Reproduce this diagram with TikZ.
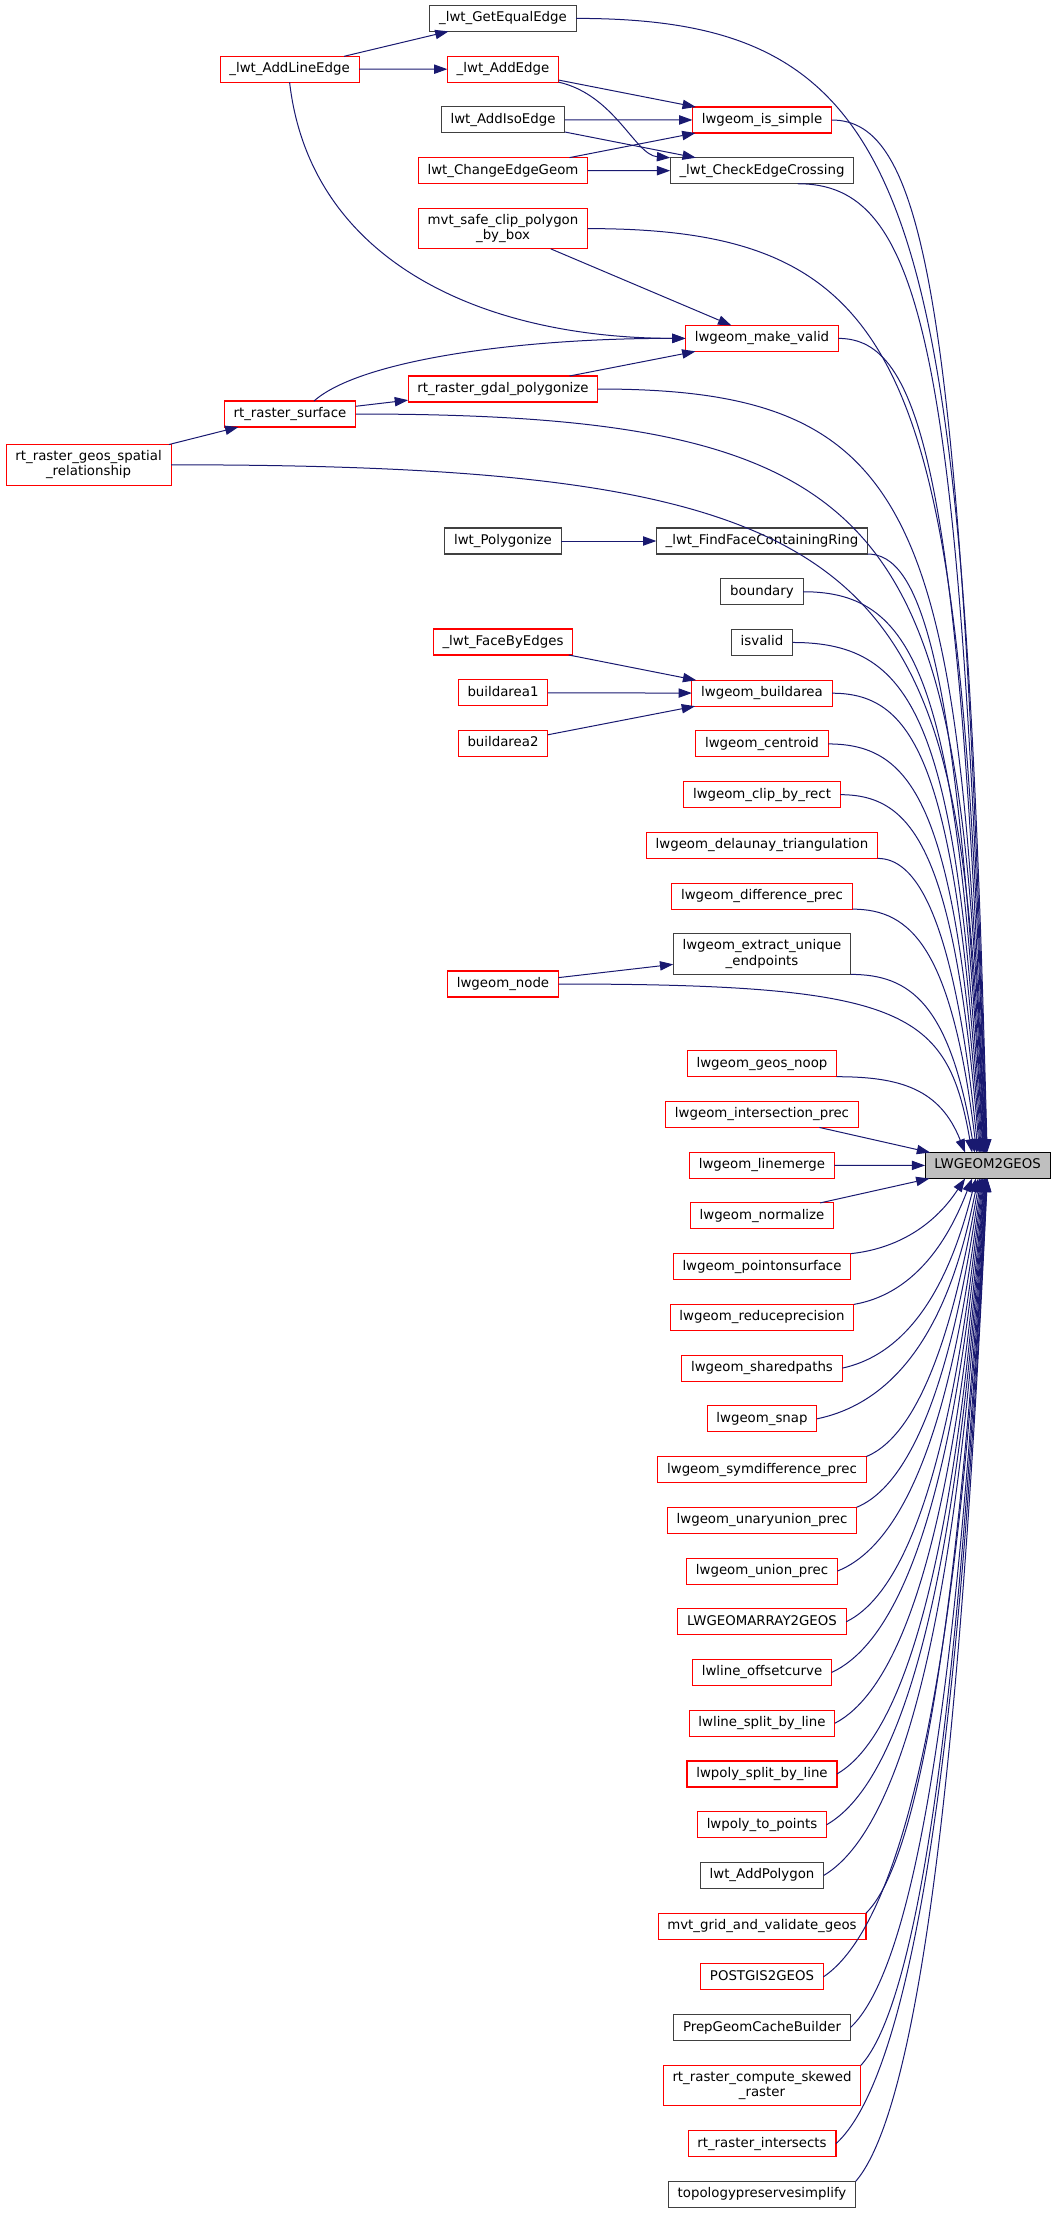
\documentclass[tikz,border=0pt]{standalone}
\usepackage{fontspec}
\setmainfont{DejaVu Sans}
\usepackage{xcolor}
\usepackage{tikz}
\usetikzlibrary{arrows.meta, positioning, calc}

\definecolor{edgeblue}{RGB}{25,25,112}
\definecolor{cutred}{RGB}{255,0,0}
\definecolor{rootgray}{RGB}{191,191,191}

\begin{document}
\begin{tikzpicture}[
    x=0.75pt, y=-0.75pt,
    node distance=18.55pt,
    box/.style={rectangle, draw=black!75, fill=white, line width=0.8pt, outer sep=0pt, inner xsep=7pt, inner ysep=0pt, minimum height=19.5pt, text height=7.6pt, text depth=2.4pt, font=\fontsize{10}{11.5}\selectfont},
    cut/.style={box, draw=cutred},
    tall/.style={align=center, minimum height=30.4pt, text height={}, text depth={}},
    root/.style={box, draw=black, fill=rootgray},
    arrow/.style={-{Triangle[length=10pt, width=7pt]}, draw=edgeblue, line width=0.75pt}
]
\useasboundingbox (0,0) rectangle (1056,2213);

% callers in the upper part
\node[box] (getequal) at (503,18.4) {\_lwt\_GetEqualEdge};
\node[cut, below=of getequal] (addedge) {\_lwt\_AddEdge};
\node[box, below=of addedge] (addiso) {lwt\_AddIsoEdge};
\node[cut, below=of addiso] (changeedge) {lwt\_ChangeEdgeGeom};
\node[cut, tall, below=of changeedge] (mvtsafe) {mvt\_safe\_clip\_polygon\\\_by\_box};
\node[cut] (addline) at (289.6,69.3) {\_lwt\_AddLineEdge};
\node[cut] (issimple) at (762,120) {lwgeom\_is\_simple};
\node[box, below=of issimple] (checkedge) {\_lwt\_CheckEdgeCrossing};
\node[cut] (makevalid) at (762,338.4) {lwgeom\_make\_valid};
\node[cut] (gdalpoly) at (503,389) {rt\_raster\_gdal\_polygonize};
\node[cut] (surface) at (290,414) {rt\_raster\_surface};
\node[cut, tall] (spatial) at (88.6,464.8) {rt\_raster\_geos\_spatial\\\_relationship};
\node[box] (polygonize) at (503,541) {lwt\_Polygonize};
\node[box] (findface) at (762,541) {\_lwt\_FindFaceContainingRing};
\node[box, below=of findface] (boundary) {boundary};
\node[box, below=of boundary] (isvalid) {isvalid};
\node[cut, below=of isvalid] (buildarea) {lwgeom\_buildarea};
\node[cut, below=of buildarea] (centroid) {lwgeom\_centroid};
\node[cut, below=of centroid] (clip) {lwgeom\_clip\_by\_rect};
\node[cut, below=of clip] (delaunay) {lwgeom\_delaunay\_triangulation};
\node[cut, below=of delaunay] (difference) {lwgeom\_difference\_prec};
\node[box, tall, below=of difference] (extract) {lwgeom\_extract\_unique\\\_endpoints};
\node[cut] (facebyedges) at (503,642) {\_lwt\_FaceByEdges};
\node[cut, below=of facebyedges] (buildarea1) {buildarea1};
\node[cut, below=of buildarea1] (buildarea2) {buildarea2};
\node[cut] (lwgeomnode) at (503,984) {lwgeom\_node};

% the long column
\node[cut] (geosnoop) at (762,1063.7) {lwgeom\_geos\_noop};
\node[cut, below=of geosnoop] (intersection) {lwgeom\_intersection\_prec};
\node[cut, below=of intersection] (linemerge) {lwgeom\_linemerge};
\node[cut, below=of linemerge] (normalize) {lwgeom\_normalize};
\node[cut, below=of normalize] (pointonsurface) {lwgeom\_pointonsurface};
\node[cut, below=of pointonsurface] (reduceprecision) {lwgeom\_reduceprecision};
\node[cut, below=of reduceprecision] (sharedpaths) {lwgeom\_sharedpaths};
\node[cut, below=of sharedpaths] (snap) {lwgeom\_snap};
\node[cut, below=of snap] (symdifference) {lwgeom\_symdifference\_prec};
\node[cut, below=of symdifference] (unaryunion) {lwgeom\_unaryunion\_prec};
\node[cut, below=of unaryunion] (unionprec) {lwgeom\_union\_prec};
\node[cut, below=of unionprec] (geomarray) {LWGEOMARRAY2GEOS};
\node[cut, below=of geomarray] (offsetcurve) {lwline\_offsetcurve};
\node[cut, below=of offsetcurve] (linesplit) {lwline\_split\_by\_line};
\node[cut, below=of linesplit] (polysplit) {lwpoly\_split\_by\_line};
\node[cut, below=of polysplit] (topoints) {lwpoly\_to\_points};
\node[box, below=of topoints] (addpolygon) {lwt\_AddPolygon};
\node[cut, below=of addpolygon] (mvtgrid) {mvt\_grid\_and\_validate\_geos};
\node[cut, below=of mvtgrid] (postgis) {POSTGIS2GEOS};
\node[box, below=of postgis] (prepcache) {PrepGeomCacheBuilder};
\node[cut, tall, below=of prepcache] (skewed) {rt\_raster\_compute\_skewed\\\_raster};
\node[cut, below=of skewed] (intersects) {rt\_raster\_intersects};
\node[box, below=of intersects] (simplify) {topologypreservesimplify};

\node[root] (lw) at (987.6,1165.5) {LWGEOM2GEOS};

% calls among the callers
\draw[arrow] (addline) -- (getequal);
\draw[arrow] (addline) -- (addedge);
\draw[arrow] (addline.south) .. controls (310,260) and (480,338) .. (makevalid.west);
\draw[arrow] (addedge) -- (issimple);
\draw[arrow] (addedge.south east) .. controls (615,95) and (635,155) .. (checkedge.north west);
\draw[arrow] (addiso) -- (issimple);
\draw[arrow] (addiso) -- (checkedge);
\draw[arrow] (changeedge) -- (issimple);
\draw[arrow] (changeedge) -- (checkedge);
\draw[arrow] (mvtsafe) -- (makevalid);
\draw[arrow] ([xshift=18pt]surface.north) .. controls (360,360) and (520,338) .. (makevalid.west);
\draw[arrow] (gdalpoly) -- (makevalid);
\draw[arrow] (surface) -- (gdalpoly);
\draw[arrow] (spatial) -- (surface);
\draw[arrow] (polygonize) -- (findface);
\draw[arrow] (facebyedges) -- (buildarea);
\draw[arrow] (buildarea1) -- (buildarea);
\draw[arrow] (buildarea2) -- (buildarea);
\draw[arrow] (lwgeomnode) -- (extract);

% calls into LWGEOM2GEOS from above
\foreach \s/\a in {getequal.east/92, issimple.east/94, checkedge.-20/96, mvtsafe.east/98, makevalid.east/100, gdalpoly.east/102, surface.east/104, spatial.east/106, findface.south east/108, boundary.east/110, isvalid.east/113, buildarea.east/116, centroid.east/119, clip.east/122, delaunay.south east/126, difference.south east/130, extract.south east/135, lwgeomnode.east/140, geosnoop.south east/150}
  \draw[arrow] let \p1=(\s), \p2=(lw.\a) in (\p1) .. controls (\x2-48.75pt,\y1) and (\x2-18.75pt,{\y1+0.16*(\y2-\y1)}) .. (\p2);

% straight ones on the left
\draw[arrow] (intersection) -- (lw);
\draw[arrow] (linemerge) -- (lw);
\draw[arrow] (normalize) -- (lw);

% calls into LWGEOM2GEOS from below
\foreach \s/\a in {pointonsurface.north east/210, reduceprecision.north east/220, sharedpaths.east/228, snap.east/234, symdifference.north east/239, unaryunion.north east/243, unionprec.east/246, geomarray.east/249, offsetcurve.east/252, linesplit.east/255, polysplit.east/257, topoints.east/259, addpolygon.east/261, mvtgrid.north east/263, postgis.east/265, prepcache.east/266, skewed.north east/267, intersects.east/268, simplify.north east/269}
  \draw[arrow] let \p1=(\s), \p2=(lw.\a) in (\p1) .. controls (\x2-33.75pt,{\y1+0.1*(\y2-\y1)}) and (\x2-11.25pt,{\y2+0.3*(\y1-\y2)}) .. (\p2);

\end{tikzpicture}
\end{document}
